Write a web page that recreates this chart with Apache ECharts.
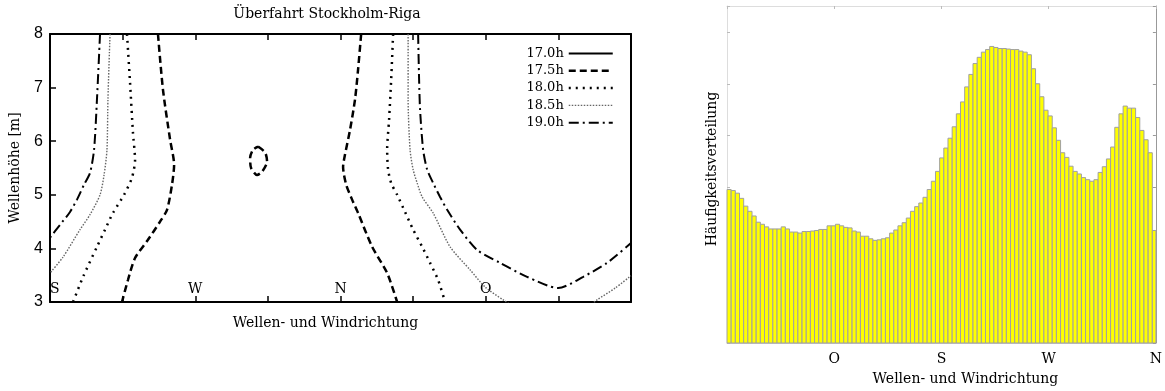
<!DOCTYPE html>
<html><head><meta charset="utf-8">
<script src="https://cdn.jsdelivr.net/npm/echarts@6/dist/echarts.min.js"></script>
<style>html,body{margin:0;padding:0;background:#fff}#c{width:1165px;height:391px}</style>
</head><body><div id="c"></div>
<script>
// ---------- Left chart data (direction in degrees: 180=S, 270=W, 360=N, 450=O, 540=S) ----------
const leftTickValues = [180, 270, 360, 450];
const leftTickNames = ['S', 'W', 'N', 'O'];
const legendNames = ['17.0h', '17.5h', '18.0h', '18.5h', '19.0h'];

const c175Left = [[246.9,8.0],[250.0,6.96],[254.4,6.03],[256.9,5.56],[255.6,5.19],[252.5,4.72],[248.2,4.50],[240.7,4.16],[232.7,3.82],[228.3,3.41],[224.6,3.0]];
const c175Right = [[372.8,8.0],[370.9,7.34],[369.0,6.78],[365.9,6.21],[362.8,5.75],[361.6,5.52],[363.5,5.19],[367.2,4.91],[370.9,4.66],[379.6,4.03],[388.9,3.54],[395.1,3.0]];
const c175Loop = [[308.9,5.90],[313.3,5.79],[314.5,5.62],[311.4,5.43],[308.3,5.37],[304.6,5.50],[304.0,5.69],[305.8,5.84],[308.9,5.90]];
const c180Left = [[227.7,8.0],[229.6,7.09],[231.4,6.16],[232.7,5.65],[230.8,5.32],[225.9,5.0],[219.0,4.66],[214.1,4.35],[209.1,4.03],[200.5,3.47],[194.3,3.0]];
const c180Right = [[392.6,8.0],[391.4,7.15],[390.1,6.40],[388.9,5.84],[389.5,5.47],[391.4,5.22],[395.1,5.0],[398.8,4.76],[405.0,4.35],[410.6,4.03],[415.5,3.73],[420.5,3.41],[424.8,3.0]];
const c185Left = [[217.2,8.0],[215.9,6.78],[215.3,5.84],[213.5,5.37],[211.0,5.0],[204.8,4.63],[198.6,4.35],[188.1,3.84],[180,3.54]];
const c185Right = [[401.9,8.0],[401.9,6.78],[403.1,5.84],[405.0,5.47],[407.5,5.22],[410.6,4.96],[417.4,4.66],[427.9,4.03],[440.3,3.60],[449.6,3.28],[460.8,3.04],[471.3,2.85],[491.1,2.70],[508.5,2.81],[519.0,3.04],[530.2,3.26],[540,3.49]];
const c190Left = [[211.0,8.0],[209.1,6.78],[207.3,5.84],[204.8,5.41],[201.1,5.19],[196.7,4.91],[192.4,4.68],[186.2,4.44],[180,4.20]];
const c190Right = [[408.1,8.0],[408.7,7.15],[409.3,6.59],[411.2,5.84],[413.7,5.47],[417.4,5.22],[421.7,4.96],[426.1,4.72],[434.1,4.35],[444.7,3.97],[458.9,3.73],[475.6,3.47],[494.9,3.26],[510.4,3.47],[525.2,3.73],[540,4.10]];

// ---------- Right chart data (histogram over direction 0..360: 90=O,180=S,270=W,360=N) ----------
const rightTickValues = [90, 180, 270, 360];
const rightTickNames = ['O', 'S', 'W', 'N'];
const binWidth = 3.5;
const freqValues = [
 2.96,2.94,2.89,2.79,2.64,2.54,2.45,2.33,2.29,2.24,2.20,2.20,2.20,2.24,2.20,2.14,2.14,2.12,2.15,2.15,2.16,2.17,2.19,2.19,2.26,
 2.26,2.29,2.26,2.23,2.22,2.16,2.14,2.06,2.06,2.01,1.98,1.99,2.01,2.03,2.12,2.18,2.26,2.32,2.41,2.54,2.63,2.70,2.81,2.96,3.12,
 3.31,3.57,3.76,3.95,4.17,4.42,4.65,4.94,5.18,5.39,5.51,5.61,5.66,5.72,5.70,5.68,5.68,5.67,5.66,5.66,5.63,5.61,5.56,5.29,5.00,4.75,
 4.49,4.38,4.15,3.91,3.67,3.58,3.41,3.31,3.26,3.19,3.15,3.12,3.15,3.29,3.40,3.55,3.78,4.16,4.42,4.57,4.53,4.53,4.35,4.10,3.92,3.67,2.17
];
const binCenters = freqValues.map((_, i) => binWidth / 2 + i * binWidth);

// ---------- Chart ----------
const serif = 'DejaVu Serif';
const chart = echarts.init(document.getElementById('c'), null, {renderer: 'canvas'});

const styles = {
  '17.0h': {type: 'solid', width: 2, color: '#000'},
  '17.5h': {type: [7, 4], width: 2.5, color: '#000'},
  '18.0h': {type: [2, 5], width: 2.5, color: '#000'},
  '18.5h': {type: [1.5, 1.5], width: 1.4, color: '#666'},
  '19.0h': {type: [10, 4, 2, 4], width: 2, color: '#000'}
};
function lineSeries(name, data) {
  return {
    name: name, type: 'line', xAxisIndex: 0, yAxisIndex: 0,
    data: data, symbol: 'none', smooth: 0.25, clip: true,
    color: styles[name].color,
    lineStyle: styles[name], z: 3
  };
}

const leftLabel = v => { const i = leftTickValues.indexOf(v); return i >= 0 ? leftTickNames[i] : ''; };
const rightLabel = v => { const i = rightTickValues.indexOf(v); return i >= 0 ? rightTickNames[i] : ''; };

const option = {
  animation: false,
  backgroundColor: '#fff',
  textStyle: {fontFamily: serif, color: '#000'},
  graphic: [
    {type: 'text', x: 327, y: 14, style: {text: 'Überfahrt Stockholm-Riga', font: '14px "DejaVu Serif"', fill: '#000', textAlign: 'center', textVerticalAlign: 'middle'}}
  ],
  legend: {
    data: legendNames,
    orient: 'vertical', align: 'right',
    right: 551, top: 47, padding: 0,
    itemWidth: 44, itemHeight: 14, itemGap: 4.3,
    textStyle: {fontFamily: serif, fontSize: 13, color: '#000'},
    itemStyle: {opacity: 0, borderWidth: 0},
    lineStyle: {type: 'inherit', width: 'inherit'}
  },
  grid: [
    {left: 50, top: 34, width: 581, height: 268, show: false},
    {left: 727, top: 6, width: 430, height: 339, show: false}
  ],
  xAxis: [
    {type: 'value', gridIndex: 0, min: 180, max: 540, interval: 45, position: 'bottom',
     axisLine: {onZero: false, lineStyle: {color: '#000', width: 2}},
     axisTick: {inside: true, length: 6, lineStyle: {color: '#000', width: 1.5}},
     axisLabel: {inside: true, margin: 6, formatter: leftLabel, alignMinLabel: 'left', fontFamily: serif, fontSize: 14, color: '#000'},
     splitLine: {show: false},
     name: 'Wellen- und Windrichtung', nameLocation: 'middle', nameGap: 14,
     nameTextStyle: {fontFamily: serif, fontSize: 14, color: '#000', padding: [0, 30, 0, 0]}},
    {type: 'value', gridIndex: 0, min: 180, max: 540, interval: 45, position: 'top',
     axisLine: {onZero: false, lineStyle: {color: '#000', width: 2}},
     axisTick: {inside: true, length: 6, lineStyle: {color: '#000', width: 1.5}},
     axisLabel: {show: false}, splitLine: {show: false}},
    {type: 'value', gridIndex: 1, min: 0, max: 360, interval: 90, position: 'bottom',
     axisLine: {onZero: false, lineStyle: {color: '#ccc', width: 1}},
     axisTick: {show: false},
     axisLabel: {formatter: rightLabel, margin: 9, fontFamily: serif, fontSize: 14, color: '#000'},
     splitLine: {show: false},
     name: 'Wellen- und Windrichtung', nameLocation: 'middle', nameGap: 29,
     nameTextStyle: {fontFamily: serif, fontSize: 14, color: '#000', padding: [0, 0, 0, 48]}},
    {type: 'value', gridIndex: 1, min: 0, max: 360, interval: 90, position: 'top',
     axisLine: {onZero: false, lineStyle: {color: '#ddd', width: 1}},
     axisTick: {inside: true, length: 3, lineStyle: {color: '#bbb'}},
     axisLabel: {show: false}, splitLine: {show: false}}
  ],
  yAxis: [
    {type: 'value', gridIndex: 0, min: 3, max: 8, interval: 1, position: 'left',
     axisLine: {show: true, onZero: false, lineStyle: {color: '#000', width: 2}},
     axisTick: {show: true, inside: true, length: 6, lineStyle: {color: '#000', width: 1.5}},
     axisLabel: {margin: 7, fontFamily: 'Liberation Sans', fontSize: 16, color: '#000'},
     splitLine: {show: false},
     name: 'Wellenhöhe [m]', nameLocation: 'middle', nameGap: 28, nameRotate: 90,
     nameTextStyle: {fontFamily: serif, fontSize: 14, color: '#000'}},
    {type: 'value', gridIndex: 0, min: 3, max: 8, interval: 1, position: 'right',
     axisLine: {show: true, onZero: false, lineStyle: {color: '#000', width: 2}},
     axisTick: {show: false}, axisLabel: {show: false}, splitLine: {show: false}},
    {type: 'value', gridIndex: 1, min: 0, max: 6.5, interval: 1, position: 'left',
     axisLine: {show: true, onZero: false, lineStyle: {color: '#ddd', width: 1}},
     axisTick: {show: true, inside: true, length: 3, lineStyle: {color: '#bbb'}},
     axisLabel: {show: false}, splitLine: {show: false},
     name: 'Häufigkeitsverteilung', nameLocation: 'middle', nameGap: 8, nameRotate: 90,
     nameTextStyle: {fontFamily: serif, fontSize: 14, color: '#000', padding: [0, 0, 0, 11]}},
    {type: 'value', gridIndex: 1, min: 0, max: 6.5, interval: 1, position: 'right',
     axisLine: {show: true, onZero: false, lineStyle: {color: '#999', width: 1}},
     axisTick: {show: true, inside: true, length: 3, lineStyle: {color: '#999'}},
     axisLabel: {show: false}, splitLine: {show: false}}
  ],
  series: [
    lineSeries('17.0h', []),
    lineSeries('17.5h', c175Left),
    lineSeries('17.5h', c175Right),
    lineSeries('17.5h', c175Loop),
    lineSeries('18.0h', c180Left),
    lineSeries('18.0h', c180Right),
    lineSeries('18.5h', c185Left),
    lineSeries('18.5h', c185Right),
    lineSeries('19.0h', c190Left),
    lineSeries('19.0h', c190Right),
    {
      name: 'Häufigkeit', type: 'custom', xAxisIndex: 2, yAxisIndex: 2,
      data: freqValues.map((v, i) => [binCenters[i], v]),
      encode: {x: 0, y: 1}, z: 2,
      renderItem: function (params, api) {
        const x = api.value(0), v = api.value(1);
        const p0 = api.coord([x - binWidth / 2, v]);
        const p1 = api.coord([x + binWidth / 2, 0]);
        const cs = params.coordSys;
        const r = echarts.graphic.clipRectByRect(
          {x: p0[0], y: p0[1], width: p1[0] - p0[0], height: p1[1] - p0[1]},
          {x: cs.x, y: cs.y, width: cs.width, height: cs.height});
        return r && {type: 'rect', shape: r, style: {fill: '#ffff00', stroke: '#a0a0a0', lineWidth: 1}};
      }
    }
  ]
};
chart.setOption(option);
</script></body></html>
